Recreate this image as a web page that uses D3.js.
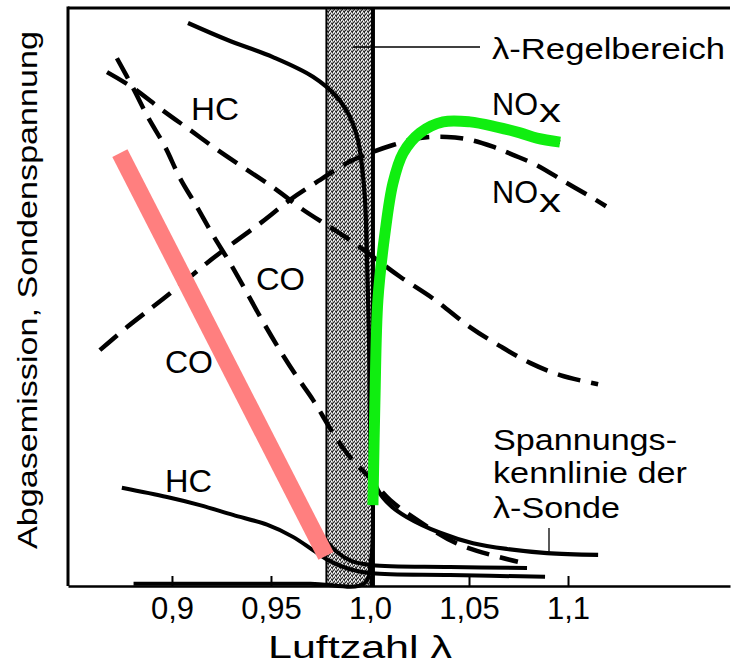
<!DOCTYPE html>
<html>
<head>
<meta charset="utf-8">
<script src="https://cdn.jsdelivr.net/npm/d3@7/dist/d3.min.js"></script>
<style>
  html, body { margin: 0; padding: 0; background: #fff; }
  svg { display: block; font-family: "Liberation Sans", Arial, sans-serif; }
</style>
</head>
<body>
<svg id="chart" width="731" height="665"></svg>
<script>
// Luftzahl axis ticks
const tickValues = [0.9, 0.95, 1.0, 1.05, 1.1];
const tickLabels = ["0,9", "0,95", "1,0", "1,05", "1,1"];

// λ control window (Regelbereich)
const controlWindow = [0.978, 1.0015];

// Curves as [λ, relative level]
// Probe voltage characteristic of the λ sensor
const probeVoltage = [
  [0.9081, 97.4], [0.9278, 94.5], [0.9510, 91.5], [0.9712, 88.1], [0.9833, 84.6],
  [0.9899, 81.1], [0.9939, 77.2], [0.9960, 72.5], [0.9975, 66.8], [0.9985, 56.4],
  [0.9995, 42.6], [1.0000, 28.7], [1.0010, 20.1], [1.0040, 16.6], [1.0101, 14.0],
  [1.0187, 11.9], [1.0354, 9.2], [1.0520, 7.4], [1.0692, 6.4], [1.0894, 5.7], [1.1152, 5.4]
];
// Raw emissions (dashed)
const hcRaw = [
  [0.8672, 88.9], [0.8803, 86.2], [0.8949, 82.4], [0.9091, 78.9], [0.9232, 75.4],
  [0.9379, 72.0], [0.9530, 68.5], [0.9662, 65.1], [0.9798, 62.1], [0.9914, 59.5],
  [1.0025, 56.7], [1.0152, 53.5], [1.0328, 49.5], [1.0505, 44.8], [1.0657, 41.5],
  [1.0808, 38.6], [1.0960, 36.5], [1.1152, 34.9]
];
const coRaw = [
  [0.8722, 91.3], [0.8803, 86.2], [0.8879, 81.1], [0.8965, 76.0], [0.9040, 70.6],
  [0.9126, 65.6], [0.9207, 60.7], [0.9293, 55.9], [0.9379, 50.7], [0.9460, 45.7],
  [0.9545, 40.8], [0.9631, 36.2], [0.9712, 32.2], [0.9813, 26.5], [0.9899, 22.3],
  [1.0000, 18.7], [1.0101, 14.9], [1.0253, 11.1], [1.0455, 7.1], [1.0747, 4.2]
];
const noxRaw = [
  [0.8636, 40.8], [0.8773, 44.8], [0.8904, 48.3], [0.9030, 51.7], [0.9177, 55.9],
  [0.9308, 59.3], [0.9455, 63.0], [0.9596, 66.8], [0.9732, 69.9], [0.9884, 73.2],
  [1.0000, 74.9], [1.0116, 76.3], [1.0253, 77.5], [1.0389, 77.7], [1.0505, 77.2],
  [1.0621, 76.0], [1.0722, 74.6], [1.0843, 72.8], [1.0985, 69.9], [1.1126, 67.1], [1.1192, 65.7]
];
// Emissions after the catalyst (solid)
const hcCat = [
  [0.8747, 17.0], [0.8975, 15.4], [0.9141, 14.0], [0.9308, 12.3], [0.9480, 10.6],
  [0.9611, 8.5], [0.9712, 6.2], [0.9798, 4.3], [0.9899, 2.9], [1.0010, 2.2],
  [1.0404, 1.9], [1.0884, 1.6]
];
const coCat = [
  [0.8768, 74.6], [0.9662, 14.4], [0.9737, 9.7], [0.9823, 6.2], [0.9909, 4.3],
  [1.0010, 3.6], [1.0404, 3.3], [1.0793, 3.1]
];
const noxCatLow = [
  [0.8806, 0.4], [0.9300, 0.4], [0.9700, 0.4], [0.9970, 0.4], [1.0005, 4.5], [1.0015, 14.0]
];
const noxCatRise = [
  [1.0015, 14.0], [1.0025, 32.2], [1.0040, 49.5], [1.0076, 61.1], [1.0116, 69.7],
  [1.0167, 74.9], [1.0253, 78.4], [1.0369, 80.3], [1.0505, 80.3], [1.0641, 79.4],
  [1.0758, 78.4], [1.0843, 77.5], [1.0960, 76.8]
];
// Highlight of the CO trend
const coHighlight = [[0.8737, 74.9], [0.9778, 5.2]];

const svg = d3.select("#chart");
const x = d3.scaleLinear().domain([0.8475, 1.1818]).range([68, 730]);
const y = d3.scaleLinear().domain([0, 100]).range([586, 8]);

const line = d3.line().x(d => x(d[0])).y(d => y(d[1])).curve(d3.curveCatmullRom.alpha(0.5));
const straight = d3.line().x(d => x(d[0])).y(d => y(d[1]));

// stipple texture for the control window
const defs = svg.append("defs");
const pat = defs.append("pattern").attr("id", "stipple")
  .attr("patternUnits", "userSpaceOnUse").attr("width", 4).attr("height", 4);
pat.append("rect").attr("width", 4).attr("height", 4).attr("fill", "#a4a4a4");
[[0,0],[2,1],[1,2],[3,3],[0,3]].forEach(([px, py]) =>
  pat.append("rect").attr("x", px).attr("y", py).attr("width", 1).attr("height", 1).attr("fill", "#2a2a2a"));
[[1,0],[3,1],[2,3]].forEach(([px, py]) =>
  pat.append("rect").attr("x", px).attr("y", py).attr("width", 1).attr("height", 1).attr("fill", "#fff"));

const band = svg.append("g");
band.append("rect")
  .attr("x", x(controlWindow[0])).attr("y", y(100))
  .attr("width", x(controlWindow[1]) - x(controlWindow[0]))
  .attr("height", y(0) - y(100))
  .attr("fill", "url(#stipple)");
band.append("line")
  .attr("x1", x(controlWindow[0])).attr("x2", x(controlWindow[0]))
  .attr("y1", y(100)).attr("y2", y(0))
  .attr("stroke", "#000").attr("stroke-width", 2);
band.append("line")
  .attr("x1", x(controlWindow[1])).attr("x2", x(controlWindow[1]))
  .attr("y1", y(100)).attr("y2", y(0))
  .attr("stroke", "#000").attr("stroke-width", 4);

// frame: top and left borders
svg.append("line").attr("x1", 68).attr("x2", 730).attr("y1", y(100)).attr("y2", y(100))
  .attr("stroke", "#000").attr("stroke-width", 3);
svg.append("line").attr("x1", 68).attr("x2", 68).attr("y1", y(100) - 1.5).attr("y2", y(0))
  .attr("stroke", "#000").attr("stroke-width", 3);

// bottom axis
const xAxis = d3.axisBottom(x)
  .tickValues(tickValues)
  .tickFormat((d, i) => tickLabels[i])
  .tickSizeInner(-10).tickSizeOuter(0).tickPadding(11);
const axisG = svg.append("g").attr("transform", `translate(0,${y(0)})`).call(xAxis);
axisG.select(".domain").attr("stroke", "#000").attr("stroke-width", 2.5);
axisG.selectAll(".tick line").attr("stroke", "#000").attr("stroke-width", 2);
axisG.selectAll(".tick text")
  .attr("font-family", "Liberation Sans, Arial, sans-serif")
  .attr("font-size", 31).attr("fill", "#000");

// dashed raw-emission curves
const dashed = svg.append("g").attr("fill", "none").attr("stroke", "#000")
  .attr("stroke-width", 4.5).attr("stroke-dasharray", "23,11");
[hcRaw, coRaw, noxRaw].forEach(s => dashed.append("path").attr("d", line(s)));

// solid curves
const solid = svg.append("g").attr("fill", "none").attr("stroke", "#000")
  .attr("stroke-width", 4).attr("stroke-linecap", "butt");
[hcCat, coCat, noxCatLow, noxCatRise].forEach(s => solid.append("path").attr("d", line(s)));
solid.append("path").attr("d", line(probeVoltage)).attr("stroke-width", 4.2);

// coloured highlights
svg.append("path").attr("d", straight(coHighlight))
  .attr("fill", "none").attr("stroke", "#ff7f7f").attr("stroke-width", 17);
svg.append("path").attr("d", line(noxCatRise))
  .attr("fill", "none").attr("stroke", "#10ee10").attr("stroke-width", 11);

// leader lines
svg.append("line").attr("x1", 353).attr("x2", 480).attr("y1", 47).attr("y2", 47)
  .attr("stroke", "#000").attr("stroke-width", 1.3);
svg.append("line").attr("x1", 549).attr("x2", 549).attr("y1", 528).attr("y2", 553)
  .attr("stroke", "#000").attr("stroke-width", 1.3);

// labels, stretched to the wide lettering of the diagram
const txt = (s, px, py, size, len) => svg.append("text").attr("x", px).attr("y", py)
  .attr("font-size", size).attr("fill", "#000")
  .attr("textLength", len).attr("lengthAdjust", "spacingAndGlyphs").text(s);

txt("λ-Regelbereich", 492, 59, 30, 233);
txt("NO", 492, 115, 31, 46); txt("x", 539, 122, 34, 22);
txt("NO", 492, 203, 31, 46); txt("x", 539, 212, 34, 22);
txt("HC", 191, 120, 31, 48);
txt("CO", 256, 290, 31, 49);
txt("CO", 165, 373, 31, 48);
txt("HC", 165, 492, 31, 47);
txt("Spannungs-", 493, 450, 30, 184);
txt("kennlinie der", 493, 483, 30, 194);
txt("λ-Sonde", 493, 518, 30, 127);

svg.append("text").attr("x", 360).attr("y", 658).attr("text-anchor", "middle")
  .attr("font-size", 32).attr("fill", "#000")
  .attr("textLength", 184).attr("lengthAdjust", "spacingAndGlyphs").text("Luftzahl λ");
svg.append("text").attr("transform", "translate(37,290) rotate(-90)")
  .attr("text-anchor", "middle").attr("font-size", 28).attr("fill", "#000")
  .attr("textLength", 518).attr("lengthAdjust", "spacingAndGlyphs")
  .text("Abgasemission, Sondenspannung");
</script>
</body>
</html>
